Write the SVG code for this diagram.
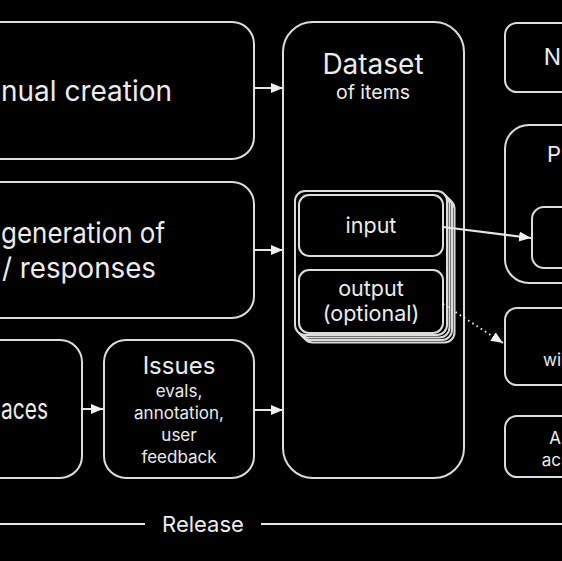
<svg xmlns="http://www.w3.org/2000/svg" width="562" height="561" viewBox="0 0 562 561">
<defs>
<style>
.box{fill:#000;stroke:#dcdcdc;stroke-width:2}
.t{fill:#ececec;font-family:Inter,"Liberation Sans",sans-serif}
.c{text-anchor:middle}
.e{text-anchor:end}
.con{stroke:#e6e6e6;stroke-width:2;fill:none}
.dot{stroke:#e6e6e6;stroke-width:2;fill:none;stroke-dasharray:1.5 3.5}
</style>
<marker id="ah" markerUnits="userSpaceOnUse" markerWidth="13" markerHeight="11" refX="12" refY="5" orient="auto">
<path d="M0,0 L12,5 L0,10 z" fill="#f0f0f0"/>
</marker>
</defs>
<rect width="562" height="561" fill="#000"/>

<g id="manual">
<rect class="box" x="-40" y="22" width="294" height="137" rx="22"/>
<text class="t" x="1" y="101" font-size="28" textLength="171" lengthAdjust="spacingAndGlyphs">nual creation</text>
</g>
<g id="synthetic">
<rect class="box" x="-40" y="182" width="294" height="136" rx="22"/>
<text class="t" x="1" y="243" font-size="28" textLength="164" lengthAdjust="spacingAndGlyphs">generation of</text>
<text class="t" x="2" y="278" font-size="28" textLength="154" lengthAdjust="spacingAndGlyphs">/ responses</text>
</g>
<g id="traces">
<rect class="box" x="-100" y="340" width="182" height="138" rx="22"/>
<text class="t" x="1" y="419" font-size="28" textLength="47" lengthAdjust="spacingAndGlyphs">aces</text>
</g>
<g id="issues">
<rect class="box" x="104" y="340" width="150" height="138" rx="22"/>
<text class="t c" x="179" y="374" font-size="24">Issues</text>
<text class="t c" x="179" y="397" font-size="17">evals,</text>
<text class="t c" x="179" y="419" font-size="17">annotation,</text>
<text class="t c" x="179" y="441" font-size="17">user</text>
<text class="t c" x="179" y="463" font-size="17">feedback</text>
</g>
<g id="dataset">
<rect class="box" x="283" y="22" width="181" height="456" rx="30"/>
<text class="t c" x="373" y="74" font-size="28">Dataset</text>
<text class="t c" x="373" y="99" font-size="19.5">of items</text>
</g>
<g id="item">
<rect class="box" x="302.5" y="198.5" width="152" height="144" rx="10"/>
<rect class="box" x="300" y="196" width="152" height="144" rx="10"/>
<rect class="box" x="297.5" y="193.5" width="152" height="144" rx="10"/>
<rect class="box" x="295" y="191" width="152" height="144" rx="10"/>
</g>
<g id="input">
<rect class="box" x="299" y="195" width="144" height="61" rx="10"/>
<text class="t c" x="371" y="233" font-size="21.5">input</text>
</g>
<g id="output">
<rect class="box" x="299" y="270" width="144" height="63" rx="10"/>
<text class="t c" x="371" y="296" font-size="21.5">output</text>
<text class="t c" x="371" y="321" font-size="21.5">(optional)</text>
</g>
<g id="n-box">
<rect class="box" x="505" y="23" width="100" height="69" rx="12"/>
<text class="t e" x="561" y="65" font-size="23">N</text>
</g>
<g id="p-box">
<rect class="box" x="505" y="125" width="100" height="158" rx="24"/>
<text class="t e" x="561" y="162" font-size="22">P</text>
</g>
<g id="p-inner">
<rect class="box" x="532" y="207" width="80" height="61" rx="12"/>
</g>
<g id="wi-box">
<rect class="box" x="505" y="308" width="100" height="77" rx="12"/>
<text class="t e" x="561" y="366" font-size="17">wi</text>
</g>
<g id="a-box">
<rect class="box" x="505" y="416" width="100" height="61" rx="12"/>
<text class="t e" x="561" y="444" font-size="17">A</text>
<text class="t e" x="561" y="466" font-size="17">ac</text>
</g>
<g id="release">
<line class="con" x1="0" y1="524" x2="145" y2="524"/>
<line class="con" x1="261" y1="524" x2="562" y2="524"/>
<text class="t c" x="203" y="532" font-size="22">Release</text>
</g>
<g id="connectors">
<line class="con" x1="254" y1="88" x2="283" y2="88" marker-end="url(#ah)"/>
<line class="con" x1="254" y1="250" x2="283" y2="250" marker-end="url(#ah)"/>
<line class="con" x1="82" y1="409" x2="103" y2="409" marker-end="url(#ah)"/>
<line class="con" x1="254" y1="410" x2="283" y2="410" marker-end="url(#ah)"/>
<line class="con" x1="443" y1="227" x2="531" y2="238" marker-end="url(#ah)"/>
<line class="dot" x1="443" y1="304" x2="503" y2="343" marker-end="url(#ah)"/>
</g>
</svg>
